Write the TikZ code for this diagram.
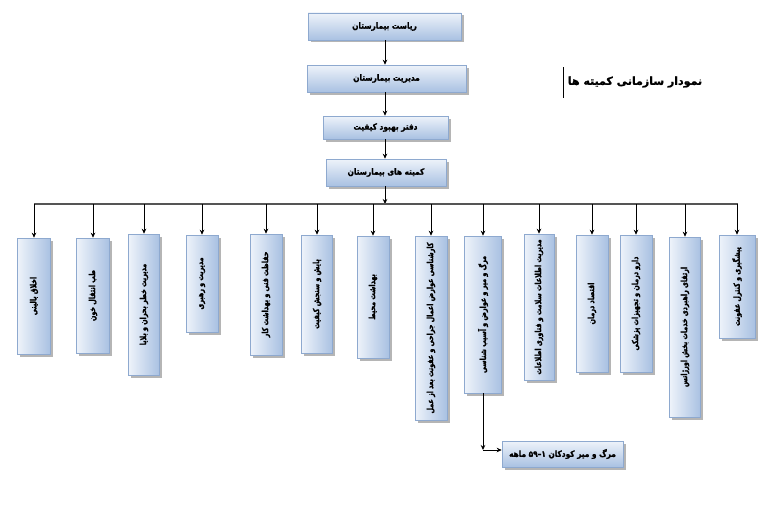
\documentclass[tikz,border=0pt]{standalone}
\usepackage{fontspec}
\newfontfamily\fa[Script=Arabic, BoldFeatures={FakeBold=1.5}]{DejaVu Sans}
\newfontfamily\fac[Script=Arabic, FakeStretch=0.86, BoldFeatures={FakeBold=1.5}]{DejaVu Sans}
\newfontfamily\facv[Script=Arabic, FakeStretch=0.76, BoldFeatures={FakeBold=1.5}]{DejaVu Sans}
\TeXXeTstate=1
\usetikzlibrary{arrows.meta}
\definecolor{boxline}{HTML}{8EA9CF}
\definecolor{boxlight}{HTML}{EEF3FA}
\definecolor{boxdark}{HTML}{A9C1E2}
\definecolor{shadowc}{HTML}{B5B5B5}
\definecolor{busc}{HTML}{555555}
\tikzset{
  hbox/.style={draw=boxline, line width=0.6pt, top color=boxlight, bottom color=boxdark,
    inner sep=0pt, font=\fac\bfseries\fontsize{8.6}{10}\selectfont,
    preaction={fill=shadowc, transform canvas={xshift=2.5pt,yshift=-2.5pt}}},
  vbox/.style={draw=boxline, line width=0.6pt, left color=boxlight, right color=boxdark,
    inner sep=0pt,
    preaction={fill=shadowc, transform canvas={xshift=2.5pt,yshift=-2.5pt}}},
  vtext/.style={rotate=90, inner sep=0pt, font=\facv\bfseries\fontsize{8.4}{10}\selectfont},
  conn/.style={line width=0.8pt, -{Stealth[length=5pt,width=4.5pt]}},
  bus/.style={line width=1.1pt, busc},
}
\newcommand{\vb}[6]{%
  \node[vbox, minimum width=#3pt, minimum height=#5pt-#4pt] (#1) at (#2,{(#4+#5)/2}) {};
  \node[vtext] (#1t) at (#1.center) {#6};
  \draw[conn] (#1.north |- busL) -- (#1.north);
}
\begin{document}
\begin{tikzpicture}[x=1pt,y=-1pt]
\useasboundingbox (0,0) rectangle (767,511);
\fill[white] (0,0) rectangle (767,511);

% title
\node[font=\fa\bfseries\fontsize{11}{13}\selectfont, inner sep=0pt] (title) at (635,82) {\beginR نمودار سازمانی کمیته ها\endR};
\draw[line width=1.6pt] (563.5,67) -- (563.5,98);

% top chain
\node[hbox, minimum width=153pt, minimum height=27pt] (b1) at (384.5,26.5) {\beginR ریاست بیمارستان\endR};
\node[hbox, minimum width=159pt, minimum height=27pt] (b2) at (386.5,78.5) {\beginR مدیریت بیمارستان\endR};
\node[hbox, minimum width=125pt, minimum height=23pt] (b3) at (385.5,127.5) {\beginR دفتر بهبود کیفیت\endR};
\node[hbox, minimum width=120pt, minimum height=27pt] (b4) at (386,172.5) {\beginR کمیته های بیمارستان\endR};

\coordinate (busL) at (34,204);
\coordinate (busR) at (738,204);
\coordinate (busM) at (385,204);

\draw[conn] (b1.south -| busM) -- (b2.north -| busM);
\draw[conn] (b2.south -| busM) -- (b3.north -| busM);
\draw[conn] (b3.south -| busM) -- (b4.north -| busM);
\draw[conn] (b4.south -| busM) -- (busM);
\draw[bus] (busL) -- (busR);

% vertical boxes
\vb{A}{34}{33}{238}{354}{\beginR اخلاق بالینی\endR}
\vb{B}{93}{33}{238}{353}{\beginR طب انتقال خون\endR}
\vb{C}{144}{31}{234}{375}{\beginR مدیریت خطر بحران و بلایا\endR}
\vb{D}{202}{32}{235}{332}{\beginR مدیریت و رهبری\endR}
\vb{E}{266}{32}{234}{355}{\beginR حفاظت فنی و بهداشت کار\endR}
\vb{F}{317}{31}{235}{353}{\beginR پایش و سنجش کیفیت\endR}
\vb{G}{373}{32}{236}{358}{\beginR بهداشت محیط\endR}
\vb{H}{431}{32}{236}{420}{\beginR کارشناسی عوارض اعمال جراحی و عفونت بعد از عمل\endR}
\vb{I}{483}{37}{236}{393}{\beginR مرگ و میر و عوارض و آسیب شناسی\endR}
\vb{J}{539}{30}{234}{380}{\beginR مدیریت اطلاعات سلامت و فناوری اطلاعات\endR}
\vb{K}{592}{32}{235}{372}{\beginR اقتصاد درمان\endR}
\vb{L}{636}{32}{235}{372}{\beginR دارو درمان و تجهیزات پزشکی\endR}
\vb{M}{685}{31}{237}{417}{\beginR ارتقای راهبردی خدمات بخش اورژانس\endR}
\vb{N}{737}{36}{235}{338}{\beginR پیشگیری و کنترل عفونت\endR}

% bottom box
\node[hbox, minimum width=121pt, minimum height=26pt] (bb) at (562.5,454) {\beginR مرگ و میر کودکان \beginL ۱–۵۹\endL{} ماهه\endR};
\coordinate (corner) at (483,450);
\draw[conn] (I.south) -- (corner);
\draw[conn] (corner) -- (corner -| bb.west);
\end{tikzpicture}
\end{document}
